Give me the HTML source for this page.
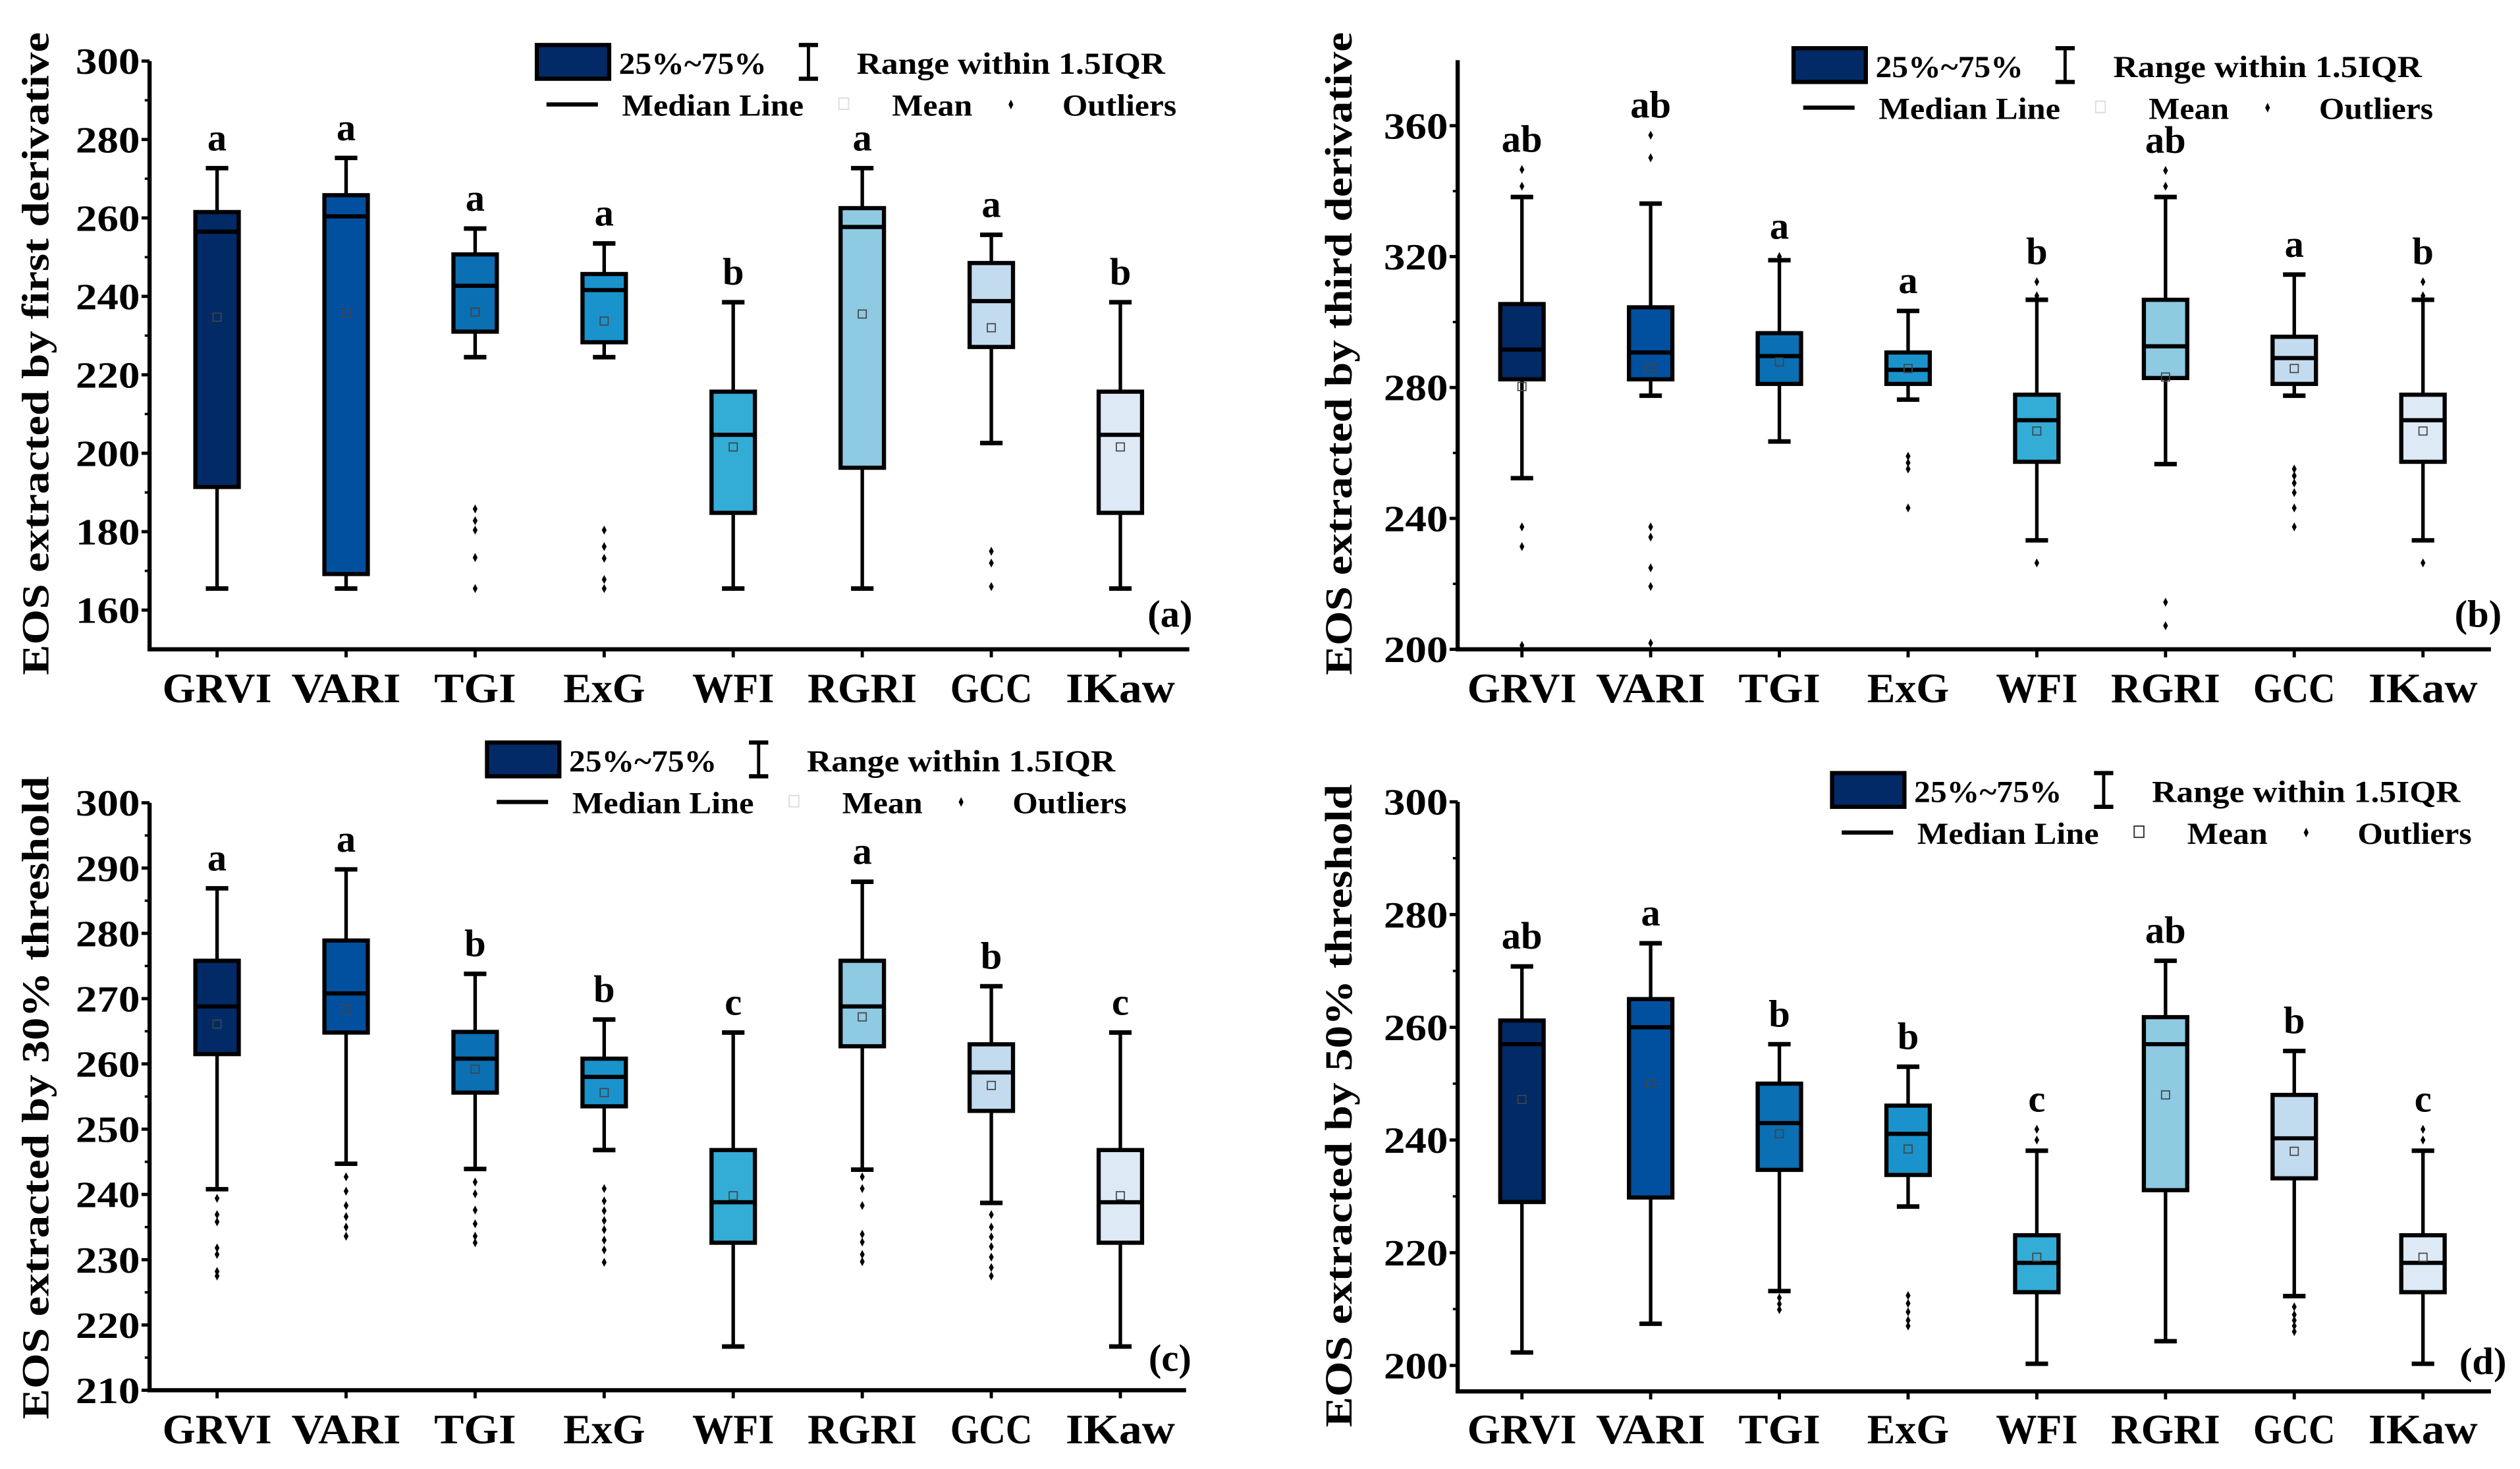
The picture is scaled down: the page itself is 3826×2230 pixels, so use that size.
<!DOCTYPE html>
<html><head><meta charset="utf-8"><style>
html,body{margin:0;padding:0;background:#fff;}
svg{display:block;}
text{font-family:"Liberation Serif",serif;font-weight:bold;fill:#000;}
</style></head>
<body>
<svg id="fig" xmlns="http://www.w3.org/2000/svg" width="3826" height="2230" viewBox="0 0 1568 914"></svg>
<script>
const categories = ["GRVI","VARI","TGI","ExG","WFI","RGRI","GCC","IKaw"];
const colors = ["#012a66","#0150a0","#0a6fb3","#1a93cd","#33acd6","#8ecae2","#c3dbef","#dde9f5"];

// Panel (a) first derivative
const aMax = [272.7,275.3,257.3,253.5,238.5,272.7,255.7,238.5];
const aQ3  = [261.5,265.8,250.7,245.7,215.7,262.5,248.5,215.7];
const aMed = [256.5,260.4,242.7,241.6,204.7,257.7,238.8,204.7];
const aQ1  = [191.4,169.2,231.0,228.3,184.8,196.3,227.1,184.8];
const aMin = [165.5,165.5,224.5,224.5,165.5,165.5,202.6,165.5];
const aMean= [234.7,235.8,236.0,233.7,201.6,235.5,232.0,201.6];
const aOut = [[],[],[185.8,182.8,180.4,173.4,165.5],[180.4,176.2,173.2,167.8,165.5],[],[],[175,172,166],[]];
const aLetters = ["a","a","a","a","b","a","a","b"];
const aTicks = [160,180,200,220,240,260,280,300];

// Panel (b) third derivative
const bMax = [338.2,336.2,318.9,303.4,306.8,338.2,314.5,306.8];
const bQ3  = [305.5,304.5,296.6,290.7,277.8,306.8,295.5,277.8];
const bMed = [291.6,290.7,289.6,285.4,270.0,292.6,289.0,270.0];
const bQ1  = [282.5,282.5,281.1,281.1,257.3,282.9,281.1,257.3];
const bMin = [252.3,277.5,263.5,276.3,233.3,256.6,277.5,233.3];
const bMean= [280.3,286.0,287.8,285.8,266.7,283.2,285.8,266.7];
const bOut = [[341.5,346.6,237.4,231.4,201.2],[357.1,350.2,237.4,234.3,224.9,219.2,201.9],[320],[259,257,255.1,243.2],[312.3,308,226.4],[346.3,341.5,214.4,207.2],[255.1,253,250.8,247.9,243.2,237.4],[312.3,308,226.4]];
const bLetters = ["ab","ab","a","a","b","ab","a","b"];
const bTicks = [200,240,280,320,360];

// Panel (c) 30% threshold
const cMax = [286.9,289.8,273.8,266.8,264.8,287.9,271.9,264.8];
const cQ3  = [275.8,278.9,264.9,260.8,246.8,275.8,263.0,246.8];
const cMed = [268.8,270.8,260.8,258.0,238.8,268.8,258.7,238.8];
const cQ1  = [261.5,264.8,255.6,253.5,232.6,262.7,252.8,232.6];
const cMin = [240.8,244.7,243.9,246.8,216.7,243.8,238.7,216.7];
const cMean= [266.1,268.3,259.2,255.6,239.8,267.2,256.7,239.8];
const cOut = [[239.4,236.9,235.8,231.8,230.8,228.2,227.5],[242.7,240.5,238.3,236.6,235,233.6],[241.9,240.1,237.6,235.5,233.6,232.6],[240.9,239,237.5,236,234.6,233,231.5,229.6],[],[242.7,240.9,238.3,233.9,232.7,230.8,229.7],[236.9,235,233.5,232,230.4,228.8,227.5],[]];
const cLetters = ["a","a","b","b","c","a","b","c"];
const cTicks = [210,220,230,240,250,260,270,280,290,300];

// Panel (d) 50% threshold
const dMax = [270.8,274.9,257.0,253.0,238.1,271.8,255.8,238.1];
const dQ3  = [261.2,265.0,250.0,246.1,223.1,261.8,248.0,223.1];
const dMed = [257.0,260.0,243.0,241.1,218.2,257.0,240.3,218.2];
const dQ1  = [229.0,229.8,234.7,233.8,213.0,231.1,233.2,213.0];
const dMin = [202.3,207.4,213.2,228.2,200.3,204.3,212.3,200.3];
const dMean= [247.2,250.0,241.1,238.4,219.2,248.0,238.0,219.2];
const dOut = [[],[],[212,210.9,209.9],[212.4,211,209.5,208,207],[241.9,240],[],[210.4,209,208,207,206],[241.9,240]];
const dLetters = ["ab","a","b","b","c","ab","b","c"];
const dTicks = [200,220,240,260,280,300];

const NS = "http://www.w3.org/2000/svg";
const svg = document.getElementById("fig");
function mk(tag, attrs, parent){
  const e = document.createElementNS(NS, tag);
  for (const k in attrs) e.setAttribute(k, attrs[k]);
  (parent||svg).appendChild(e);
  return e;
}

function panel(cfg){
  const g = mk("g", {});
  
  
  const {x0,x1,yBot,yTop,vBot,vTop} = cfg;
  const yS = v => yBot - (v - vBot) / (vTop - vBot) * (yBot - yTop);
  const xS = i => cfg.cx0 + i * cfg.step;
  const axTop = yS(cfg.axisTopVal);
  const ya = mk("line", {x1:x0, y1:axTop, x2:x0, y2:yBot, stroke:"#000","stroke-width":2.6}, g);
  
  
  const xa = mk("line", {x1:x0-1.3, y1:yBot, x2:x1, y2:yBot, stroke:"#000","stroke-width":2.6}, g);
  
  
  cfg.ticks.forEach(t => {
    const y = yS(t);
    mk("line", {x1:x0-5, y1:y, x2:x0, y2:y, stroke:"#000","stroke-width":2}, g);
    const tl = mk("text", {x:x0-6, y:y+8, "text-anchor":"end","font-size":23, textLength:40, lengthAdjust:"spacingAndGlyphs"}, g);
    tl.textContent = t;
    
    
  });
  for (let v = cfg.ticks[0] + cfg.minor; v < cfg.axisTopVal; v += cfg.minor*2) {
    const y = yS(v);
    mk("line", {x1:x0-3, y1:y, x2:x0, y2:y, stroke:"#000","stroke-width":1.5}, g);
  }
  const at = mk("text", {x:0, y:0, "text-anchor":"middle","font-size":24, transform:`translate(${cfg.titleX},${cfg.titleY}) rotate(-90)`, textLength:cfg.titleLen, lengthAdjust:"spacingAndGlyphs"}, g);
  at.textContent = cfg.title;
  
  
  categories.forEach((c, i) => {
    const cx = xS(i), hw = 13.5, cw = 7;
    const bg = mk("g", {}, g);
    
    
    mk("line", {x1:cx, y1:yS(cfg.max[i]), x2:cx, y2:yS(cfg.min[i]), stroke:"#000","stroke-width":2.2}, bg);
    mk("line", {x1:cx-cw, y1:yS(cfg.max[i]), x2:cx+cw, y2:yS(cfg.max[i]), stroke:"#000","stroke-width":2.8}, bg);
    mk("line", {x1:cx-cw, y1:yS(cfg.min[i]), x2:cx+cw, y2:yS(cfg.min[i]), stroke:"#000","stroke-width":2.8}, bg);
    mk("rect", {x:cx-hw, y:yS(cfg.q3[i]), width:hw*2, height:yS(cfg.q1[i])-yS(cfg.q3[i]), fill:colors[i], stroke:"#000","stroke-width":2.6}, bg);
    mk("line", {x1:cx-hw, y1:yS(cfg.med[i]), x2:cx+hw, y2:yS(cfg.med[i]), stroke:"#000","stroke-width":2.6}, bg);
    mk("rect", {x:cx-2.5, y:yS(cfg.mean[i])-2.5, width:5, height:5, fill:"none", stroke:"#444","stroke-width":0.7}, bg);
    let topV = cfg.max[i];
    cfg.out[i].forEach(o => {
      if (o > topV) topV = o;
      const y = yS(o);
      const d = mk("path", {d:`M${cx},${y-2.8} L${cx+1.5},${y} L${cx},${y+2.8} L${cx-1.5},${y} Z`, fill:"#000"}, bg);
      
      
    });
    const lt = mk("text", {x:cx, y:yS(topV)-11, "text-anchor":"middle","font-size":24}, g);
    lt.textContent = cfg.letters[i];
    
    
    mk("line", {x1:cx, y1:yBot, x2:cx, y2:yBot+5, stroke:"#000","stroke-width":2}, g);
    const cl = mk("text", {x:cx, y:cfg.catY, "text-anchor":"middle","font-size":26, textLength: c.length*17, lengthAdjust:"spacingAndGlyphs"}, g);
    cl.textContent = c;
    
    
  });
  const pl = mk("text", {x:cfg.tagX, y:cfg.tagY, "text-anchor":"middle","font-size":24}, g);
  pl.textContent = "(" + cfg.tag + ")";
  
  
  legend(cfg.lx, cfg.ly, g, cfg.meanVisible);
}

function legend(dx, dy, parent, meanVisible){
  const g = mk("g", {transform:`translate(${dx},${dy})`}, parent);
  
  
  mk("rect", {x:334, y:28, width:45, height:21, fill:"#012a66", stroke:"#000","stroke-width":2.6}, g);
  const t1 = mk("text", {x:385, y:46, "font-size":19, textLength:92, lengthAdjust:"spacingAndGlyphs"}, g); t1.textContent = "25%~75%";
  mk("line", {x1:503, y1:28, x2:503, y2:49, stroke:"#000","stroke-width":2}, g);
  mk("line", {x1:497, y1:28, x2:509, y2:28, stroke:"#000","stroke-width":2.6}, g);
  mk("line", {x1:497, y1:49, x2:509, y2:49, stroke:"#000","stroke-width":2.6}, g);
  const t2 = mk("text", {x:533, y:46, "font-size":19, textLength:192, lengthAdjust:"spacingAndGlyphs"}, g); t2.textContent = "Range within 1.5IQR";
  mk("line", {x1:340, y1:65, x2:372, y2:65, stroke:"#000","stroke-width":2.6}, g);
  const t3 = mk("text", {x:387, y:72, "font-size":19, textLength:113, lengthAdjust:"spacingAndGlyphs"}, g); t3.textContent = "Median Line";
  mk("rect", {x:522, y:61, width:6, height:7, fill:"none", stroke: meanVisible ? "#333" : "#ddd","stroke-width":0.8}, g);
  const t4 = mk("text", {x:555, y:72, "font-size":19, textLength:50, lengthAdjust:"spacingAndGlyphs"}, g); t4.textContent = "Mean";
  mk("path", {d:"M629,62 L630.5,65 L629,68 L627.5,65 Z", fill:"#000"}, g);
  const t5 = mk("text", {x:661, y:72, "font-size":19, textLength:71, lengthAdjust:"spacingAndGlyphs"}, g); t5.textContent = "Outliers";
}

panel({tag:"a", x0:93, x1:740, yBot:404, yTop:38, vBot:150, vTop:300, axisTopVal:300, cx0:135, step:80.3,
  ticks:aTicks, minor:10, title:"EOS extracted by first derivative", titleX:30, titleY:220, titleLen:400, catY:437,
  max:aMax,q3:aQ3,med:aMed,q1:aQ1,min:aMin,mean:aMean,out:aOut,letters:aLetters,tagX:728,tagY:390,lx:0,ly:0,meanVisible:false});
panel({tag:"b", x0:907, x1:1550, yBot:404, yTop:78.2, vBot:200, vTop:360, axisTopVal:380, cx0:947, step:80.1,
  ticks:bTicks, minor:20, title:"EOS extracted by third derivative", titleX:841, titleY:220, titleLen:400, catY:437,
  max:bMax,q3:bQ3,med:bMed,q1:bQ1,min:bMin,mean:bMean,out:bOut,letters:bLetters,tagX:1542,tagY:390,lx:782,ly:2,meanVisible:false});
panel({tag:"c", x0:93, x1:738, yBot:865, yTop:499.5, vBot:210, vTop:300, axisTopVal:300, cx0:135, step:80.3,
  ticks:cTicks, minor:5, title:"EOS extracted by 30% threshold", titleX:30, titleY:683, titleLen:400, catY:898,
  max:cMax,q3:cQ3,med:cMed,q1:cQ1,min:cMin,mean:cMean,out:cOut,letters:cLetters,tagX:728,tagY:853,lx:-31,ly:434,meanVisible:false});
panel({tag:"d", x0:907, x1:1550, yBot:865.7, yTop:498.9, vBot:195.4, vTop:300, axisTopVal:300, cx0:947, step:80.1,
  ticks:dTicks, minor:10, title:"EOS extracted by 50% threshold", titleX:841, titleY:688, titleLen:400, catY:898,
  max:dMax,q3:dQ3,med:dMed,q1:dQ1,min:dMin,mean:dMean,out:dOut,letters:dLetters,tagX:1545,tagY:855,lx:806,ly:453,meanVisible:true});
</script>
</body></html>
